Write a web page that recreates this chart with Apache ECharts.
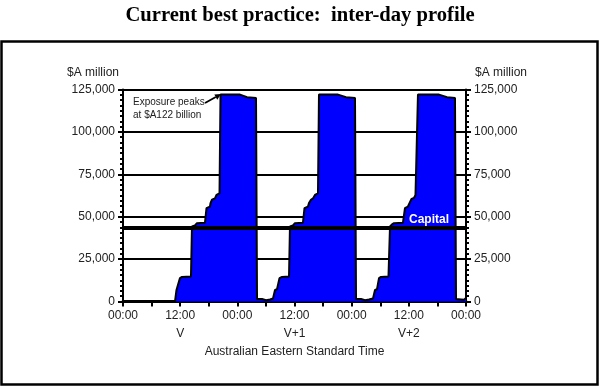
<!DOCTYPE html>
<html><head><meta charset="utf-8">
<script src="https://cdn.jsdelivr.net/npm/echarts@6/dist/echarts.min.js"></script>
<style>html,body{margin:0;padding:0;background:#fff}#c{width:600px;height:387px}</style>
</head><body><div id="c"></div>
<script>
// time in hours from 00:00 of the day before V
const hours = [
  0, 10.92, 11.23, 11.55, 11.96, 12.38, 14.27, 14.48, 15.11, 15.53, 17.21, 17.53, 18.26, 18.37, 18.68, 19.31, 19.63, 20.26, 20.47, 24.56, 26.03, 27.92, 28.13,
  29.18, 30.02, 30.86, 31.49,
  31.91, 32.33, 32.85, 33.38, 34.85, 35.05, 35.68, 36.10, 37.78, 38.10, 38.83, 39.04, 39.46, 39.88, 40.30, 40.93, 41.14, 45.13, 46.81, 48.70, 48.91,
  49.96, 50.80, 51.64, 52.48,
  52.90, 53.32, 53.74, 54.16, 55.73, 56.05, 56.47, 56.89, 58.77, 59.19, 59.82, 60.14, 60.56, 61.08, 61.40, 61.71, 61.92, 66.33, 68.01, 69.69, 69.90,
  70.95, 71.58, 72
];
// exposure, $A million
const exposure = [
  0, 0, 6800, 7200, 13800, 14500, 14800, 44200, 44800, 46200, 46500, 55000, 56000, 58000, 60000, 60800, 62800, 63800, 122000, 122000, 120500, 120000, 1500,
  1500, 800, 1200, 1800,
  6800, 7200, 13800, 14500, 14800, 44200, 44800, 46200, 46500, 55000, 56000, 58000, 60000, 60800, 62800, 63800, 122000, 122000, 120500, 120000, 1500,
  1500, 800, 1200, 1800,
  6800, 7200, 13800, 14500, 14800, 44200, 45500, 46200, 46500, 55000, 56000, 58000, 60500, 61000, 62800, 63800, 122000, 122000, 120500, 120000, 1500,
  1200, 1000, 2000
];
const capital = 43200;
const peakPoint = [20.47, 122000];
const xTickLabels = ['00:00', '12:00', '00:00', '12:00', '00:00', '12:00', '00:00'];
const dayLabels = ['V', 'V+1', 'V+2'];
const dayLabelHours = [12, 36, 60];
const yTicks = [0, 25000, 50000, 75000, 100000, 125000];

const font = 'Liberation Sans, Arial, sans-serif';
const txt = '#222';
const data = hours.map((h, i) => [h, exposure[i]]);
const fmt = v => v.toLocaleString('en-US');

const chart = echarts.init(document.getElementById('c'), null, {renderer: 'canvas'});
const yBase = {
  type: 'value', min: yTicks[0], max: yTicks[yTicks.length - 1], interval: yTicks[1] - yTicks[0],
  name: '$A million', nameLocation: 'end', nameGap: 11,
  axisLine: {show: true, onZero: false, lineStyle: {color: '#000', width: 2}},
  axisTick: {show: true, length: 5, lineStyle: {color: '#000', width: 2}},
  minorTick: {show: true, splitNumber: 8, length: 3, lineStyle: {color: '#000', width: 2}},
  axisLabel: {formatter: fmt, fontFamily: font, fontSize: 12, color: txt, margin: 8}
};
chart.setOption({
  animation: false,
  title: {text: 'Current best practice:  inter-day profile', left: 'center', top: 0,
    textStyle: {fontFamily: 'Liberation Serif, Times New Roman, serif', fontWeight: 'bold', fontSize: 20.6, color: '#000'}},
  grid: {left: 123, right: 134, top: 89.5, bottom: 85.5},
  xAxis: [
    {type: 'value', min: 0, max: 72, interval: 6, position: 'bottom',
     axisLine: {onZero: false, lineStyle: {color: '#000', width: 3}},
     axisTick: {length: 5, lineStyle: {color: '#000', width: 2}},
     splitLine: {show: false},
     axisLabel: {formatter: v => (v % 12 === 0 ? xTickLabels[v / 12] : ''), fontFamily: font, fontSize: 12, color: txt, margin: 8}},
    {type: 'value', min: 0, max: 72, position: 'bottom',
     axisLine: {show: false, onZero: false}, axisTick: {show: false}, splitLine: {show: false},
     axisLabel: {customValues: dayLabelHours, formatter: v => dayLabels[dayLabelHours.indexOf(v)], fontFamily: font, fontSize: 12, color: txt, margin: 26},
     name: 'Australian Eastern Standard Time', nameLocation: 'middle', nameGap: 44,
     nameTextStyle: {fontFamily: font, fontSize: 12, color: txt}}
  ],
  yAxis: [
    Object.assign({}, yBase, {position: 'left',
      nameTextStyle: {fontFamily: font, fontSize: 12, color: txt, align: 'right', padding: [0, 4, 0, 0]},
      splitLine: {show: true, lineStyle: {color: '#000', width: 2}}}),
    Object.assign({}, yBase, {position: 'right',
      nameTextStyle: {fontFamily: font, fontSize: 12, color: txt, align: 'left', padding: [0, 0, 0, 9]},
      splitLine: {show: false}})
  ],
  series: [{
    type: 'line', data: data, symbol: 'none', xAxisIndex: 0, yAxisIndex: 0,
    lineStyle: {color: '#000', width: 2},
    areaStyle: {color: '#0000ff', opacity: 1},
    markLine: {
      symbol: 'none', silent: true, animation: false,
      lineStyle: {color: '#000', width: 4, type: 'solid'},
      label: {show: true, position: 'insideEndTop', formatter: 'Capital', color: '#fff', fontWeight: 'bold',
        fontSize: 12, fontFamily: font, distance: [17, 3]},
      emphasis: {disabled: true},
      data: [{yAxis: capital}]
    }
  }]
});

const p = chart.convertToPixel({gridIndex: 0}, peakPoint);
const tail = [p[0] - 15.5, p[1] + 8.5];
const head = [p[0] + 0.5, p[1] - 0.5];
const dx = head[0] - tail[0], dy = head[1] - tail[1];
const len = Math.sqrt(dx * dx + dy * dy), ux = dx / len, uy = dy / len;
const ah = 6, aw = 3;
const base = [head[0] - ux * ah, head[1] - uy * ah];
chart.setOption({
  graphic: [
    {type: 'rect', shape: {x: 1.5, y: 41.5, width: 596, height: 343},
     style: {fill: 'none', stroke: '#000', lineWidth: 2.5}, silent: true, z: 10},
    {type: 'text', x: p[0] - 87.5, y: p[1] + 1.5,
     style: {text: 'Exposure peaks\nat $A122 billion', fill: txt, font: '10px ' + font, lineHeight: 12.6}, z: 10},
    {type: 'line', shape: {x1: tail[0], y1: tail[1], x2: base[0], y2: base[1]},
     style: {stroke: '#000', lineWidth: 1.8}, z: 10},
    {type: 'polygon', shape: {points: [head, [base[0] - uy * aw, base[1] + ux * aw], [base[0] + uy * aw, base[1] - ux * aw]]},
     style: {fill: '#000'}, z: 10}
  ]
});
</script>
</body></html>
